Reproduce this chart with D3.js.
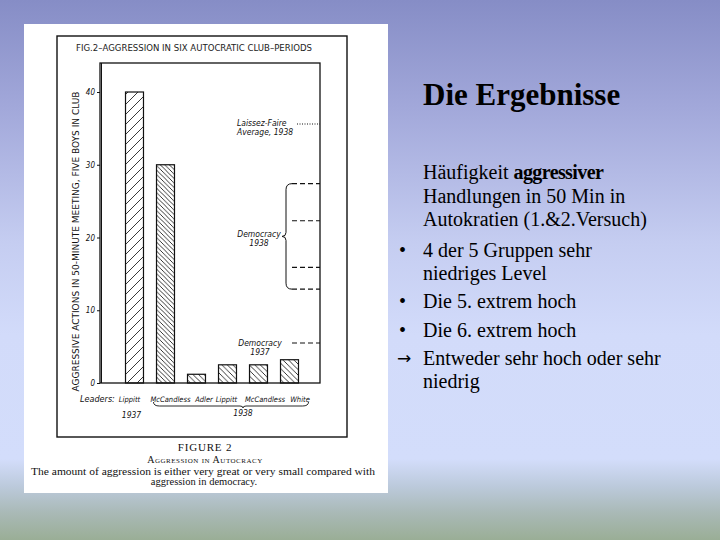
<!DOCTYPE html>
<html><head><meta charset="utf-8">
<script src="https://cdn.jsdelivr.net/npm/d3@7"></script>
<style>html,body{margin:0;padding:0;overflow:hidden;}svg{display:block;}</style>
</head><body>
<svg id="c" width="720" height="540"></svg>
<script>
// ---- data ----
const leaders = ["Lippitt", "McCandless", "Adler", "Lippitt", "McCandless", "White"];
const aggression = [40, 30, 1.2, 2.5, 2.5, 3.2];
const hatchKind = ["wide", "dense", "mid", "mid", "mid", "mid"];
const yTicks = [0, 10, 20, 30, 40];
const laissezFaire1938 = [35.6];
const democracy1938 = [27.4, 22.3, 15.9, 12.9];
const democracy1937 = [5.5];
const yearLabels = ["1937", "1938"];
const figTitle = "FIG.2\u2013AGGRESSION IN SIX AUTOCRATIC CLUB\u2013PERIODS";
const yLabel = "AGGRESSIVE ACTIONS IN 50-MINUTE MEETING, FIVE BOYS IN CLUB";
const captionLines = ["FIGURE 2", "Aggression in Autocracy",
  "The amount of aggression is either very great or very small compared with",
  "aggression in democracy."];
const slideTitle = "Die Ergebnisse";
const bodyLines = [
  {b:"", t:["H\u00e4ufigkeit ", {bold:"aggressiver"}]},
  {b:"", t:["Handlungen in 50 Min in"]},
  {b:"", t:["Autokratien (1.&2.Versuch)"]},
  {b:"\u2022", t:["4 der 5 Gruppen sehr"]},
  {b:"", t:["niedriges Level"]},
  {b:"\u2022", t:["Die 5. extrem hoch"]},
  {b:"\u2022", t:["Die 6. extrem hoch"]},
  {b:"\u2192", t:["Entweder sehr hoch oder sehr"]},
  {b:"", t:["niedrig"]}
];

const svg = d3.select("#c");
const defs = svg.append("defs");

// background gradient
const g = defs.append("linearGradient").attr("id","bg").attr("x1",0).attr("y1",0).attr("x2",0).attr("y2",1);
[[0,"#868dc6"],[0.2,"#a2a8da"],[0.45,"#c5cdf1"],[0.62,"#d2dbfa"],[0.85,"#d3ddfb"],[0.9,"#bccadc"],[0.95,"#a9b9b6"],[1,"#9aae96"]]
  .forEach(([o,c]) => g.append("stop").attr("offset",o).attr("stop-color",c));
svg.append("rect").attr("width",720).attr("height",540).attr("fill","url(#bg)");

// hatch patterns
function hatch(id, s, dir) {
  const p = defs.append("pattern").attr("id",id).attr("patternUnits","userSpaceOnUse")
    .attr("width",s).attr("height",s);
  const d = dir > 0
    ? `M0,${s} L${s},0 M${-s/2},${s/2} L${s/2},${-s/2} M${s/2},${s*1.5} L${s*1.5},${s/2}`
    : `M0,0 L${s},${s} M${-s/2},${s/2} L${s/2},${s*1.5} M${s/2},${-s/2} L${s*1.5},${s/2}`;
  p.append("path").attr("d",d).attr("stroke","#222").attr("stroke-width",0.9).attr("fill","none");
}
hatch("wide", 10, 1);
hatch("dense", 4.5, -1);
hatch("mid", 5.5, -1);

// white panel
svg.append("rect").attr("x",24).attr("y",24).attr("width",364).attr("height",469).attr("fill","#ffffff");
// figure frame
svg.append("rect").attr("x",57).attr("y",36).attr("width",290).attr("height",401)
  .attr("fill","none").attr("stroke","#111").attr("stroke-width",1.4);

const hand = "'DejaVu Sans Condensed', 'DejaVu Sans', sans-serif";
const serif = "'Liberation Serif', 'Times New Roman', serif";

svg.append("text").attr("x",76).attr("y",51).attr("font-family",hand)
  .attr("font-size",8).attr("fill","#222").attr("textLength",236).attr("lengthAdjust","spacingAndGlyphs")
  .text(figTitle);

// scales
const plotL = 100, plotR = 320, plotT = 63;
const y = d3.scaleLinear().domain([0, 40]).range([383, 92]);
const x = d3.scaleBand().domain(d3.range(leaders.length)).range([119, 305]).paddingInner(0.42).paddingOuter(0.21);

// plot frame
svg.append("rect").attr("x",plotL).attr("y",plotT).attr("width",plotR-plotL).attr("height",y(0)-plotT)
  .attr("fill","none").attr("stroke","#111").attr("stroke-width",1.3);
svg.append("line").attr("x1",plotL+1.5).attr("x2",plotL+1.5).attr("y1",plotT).attr("y2",y(0))
  .attr("stroke","#111").attr("stroke-width",1);

// y axis
const ax = svg.append("g").attr("transform",`translate(${plotL},0)`)
  .call(d3.axisLeft(y).tickValues(yTicks).tickSize(3).tickPadding(2).tickFormat(d3.format("d")));
ax.select(".domain").remove();
ax.selectAll("line").attr("stroke","#111");
ax.selectAll("text").attr("font-family",hand).attr("font-style","italic")
  .attr("font-size",8).attr("fill","#111");

svg.append("text").attr("transform",`translate(79,${(85+398)/2}) rotate(-90)`)
  .attr("text-anchor","middle").attr("font-family",hand).attr("font-size",8.5)
  .attr("fill","#111").attr("textLength",300).attr("lengthAdjust","spacingAndGlyphs").text(yLabel);

// bars
svg.append("g").selectAll("rect").data(aggression).join("rect")
  .attr("x",(d,i)=>x(i)).attr("y",d=>y(d)).attr("width",x.bandwidth()).attr("height",d=>y(0)-y(d))
  .attr("fill",(d,i)=>`url(#${hatchKind[i]})`).attr("stroke","#111").attr("stroke-width",1.2);

// x labels
const labelShift = [-5, 5, 7.5, -1, 6.5, 10.5];
svg.append("text").attr("x",80).attr("y",402).attr("font-family",hand).attr("font-style","italic")
  .attr("font-size",9).attr("fill","#111").text("Leaders:");
svg.append("g").selectAll("text").data(leaders).join("text")
  .attr("x",(d,i)=>x(i)+x.bandwidth()/2 + labelShift[i]).attr("y",402).attr("text-anchor","middle")
  .attr("font-family",hand).attr("font-style","italic")
  .attr("font-size",7.5).attr("fill","#111").text(d=>d);
svg.append("text").attr("x",x(0)+x.bandwidth()/2-3).attr("y",418).attr("text-anchor","middle")
  .attr("font-family",hand).attr("font-style","italic").attr("font-size",8.5).attr("fill","#111").text(yearLabels[0]);
const bx0 = x(1) - 3, bx1 = x(5) + x.bandwidth() + 10, bmid = 243;
svg.append("path").attr("d",`M${bx0},402 Q${bx0},406 ${bx0+6},406 L${bmid-3},406 Q${bmid},406 ${bmid},408 Q${bmid},406 ${bmid+3},406 L${bx1-6},406 Q${bx1},406 ${bx1},402`)
  .attr("fill","none").attr("stroke","#111").attr("stroke-width",0.9);
svg.append("text").attr("x",bmid).attr("y",416).attr("text-anchor","middle")
  .attr("font-family",hand).attr("font-style","italic").attr("font-size",8.5).attr("fill","#111").text(yearLabels[1]);

// reference marks
svg.append("g").selectAll("line").data(laissezFaire1938).join("line")
  .attr("x1",297).attr("x2",plotR).attr("y1",d=>y(d)).attr("y2",d=>y(d))
  .attr("stroke","#111").attr("stroke-width",1).attr("stroke-dasharray","1,1.5");
svg.append("g").selectAll("line").data(democracy1938.concat(democracy1937)).join("line")
  .attr("x1",292).attr("x2",plotR).attr("y1",d=>y(d)).attr("y2",d=>y(d))
  .attr("stroke","#111").attr("stroke-width",1.1).attr("stroke-dasharray","5,3");
// brace
const bt = y(d3.max(democracy1938)), bb = y(d3.min(democracy1938)), bm = (bt+bb)/2;
svg.append("path").attr("d",`M292,${bt} Q286,${bt} 286,${bt+6} L286,${bm-4} Q286,${bm} 282,${bm} Q286,${bm} 286,${bm+4} L286,${bb-6} Q286,${bb} 292,${bb}`)
  .attr("fill","none").attr("stroke","#111").attr("stroke-width",1);

function note(lines, xx, yy, anchor) {
  svg.append("g").selectAll("text").data(lines).join("text")
    .attr("x",xx).attr("y",(d,i)=>yy+i*9).attr("text-anchor",anchor||"start")
    .attr("font-family",hand).attr("font-style","italic").attr("font-size",8.5).attr("fill","#111").text(d=>d);
}
note(["Laissez-Faire", "Average, 1938"], 237, y(laissezFaire1938[0])+2);
note(["Democracy", "1938"], 259, bm+1, "middle");
note(["Democracy", "1937"], 260, y(democracy1937[0])+3, "middle");

// caption
svg.append("text").attr("x",205).attr("y",451).attr("text-anchor","middle").attr("font-family",serif)
  .attr("font-size",11).attr("letter-spacing",0.8).attr("fill","#111").text(captionLines[0]);
svg.append("text").attr("x",205).attr("y",463).attr("text-anchor","middle").attr("font-family",serif)
  .attr("font-size",10).attr("font-variant","small-caps").attr("letter-spacing",0.5).attr("fill","#111").text(captionLines[1]);
svg.append("text").attr("x",31).attr("y",475).attr("font-family",serif)
  .attr("font-size",10.5).attr("fill","#111").attr("textLength",344).attr("lengthAdjust","spacingAndGlyphs").text(captionLines[2]);
svg.append("text").attr("x",204).attr("y",485).attr("text-anchor","middle").attr("font-family",serif)
  .attr("font-size",10.5).attr("fill","#111").text(captionLines[3]);

// slide text
svg.append("text").attr("x",423).attr("y",105).attr("font-family",serif).attr("font-weight","bold")
  .attr("font-size",31).attr("fill","#000").text(slideTitle);
const baselines = [179, 203, 226, 257, 280, 308, 337, 365, 388];
bodyLines.forEach((ln, i) => {
  if (ln.b) svg.append("text").attr("x", ln.b === "\u2192" ? 397 : 399).attr("y", baselines[i] - (ln.b === "\u2192" ? 1 : 0))
    .attr("font-family", ln.b === "\u2192" ? "'DejaVu Sans', sans-serif" : serif).attr("font-size", ln.b === "\u2192" ? 17 : 20)
    .attr("fill","#000").text(ln.b);
  const t = svg.append("text").attr("x", 423).attr("y", baselines[i])
    .attr("font-family",serif).attr("font-size",20).attr("fill","#000");
  ln.t.forEach(part => {
    if (typeof part === "string") t.append("tspan").text(part);
    else t.append("tspan").attr("font-weight","bold").attr("letter-spacing",-0.6).text(part.bold);
  });
});
</script>
</body></html>
